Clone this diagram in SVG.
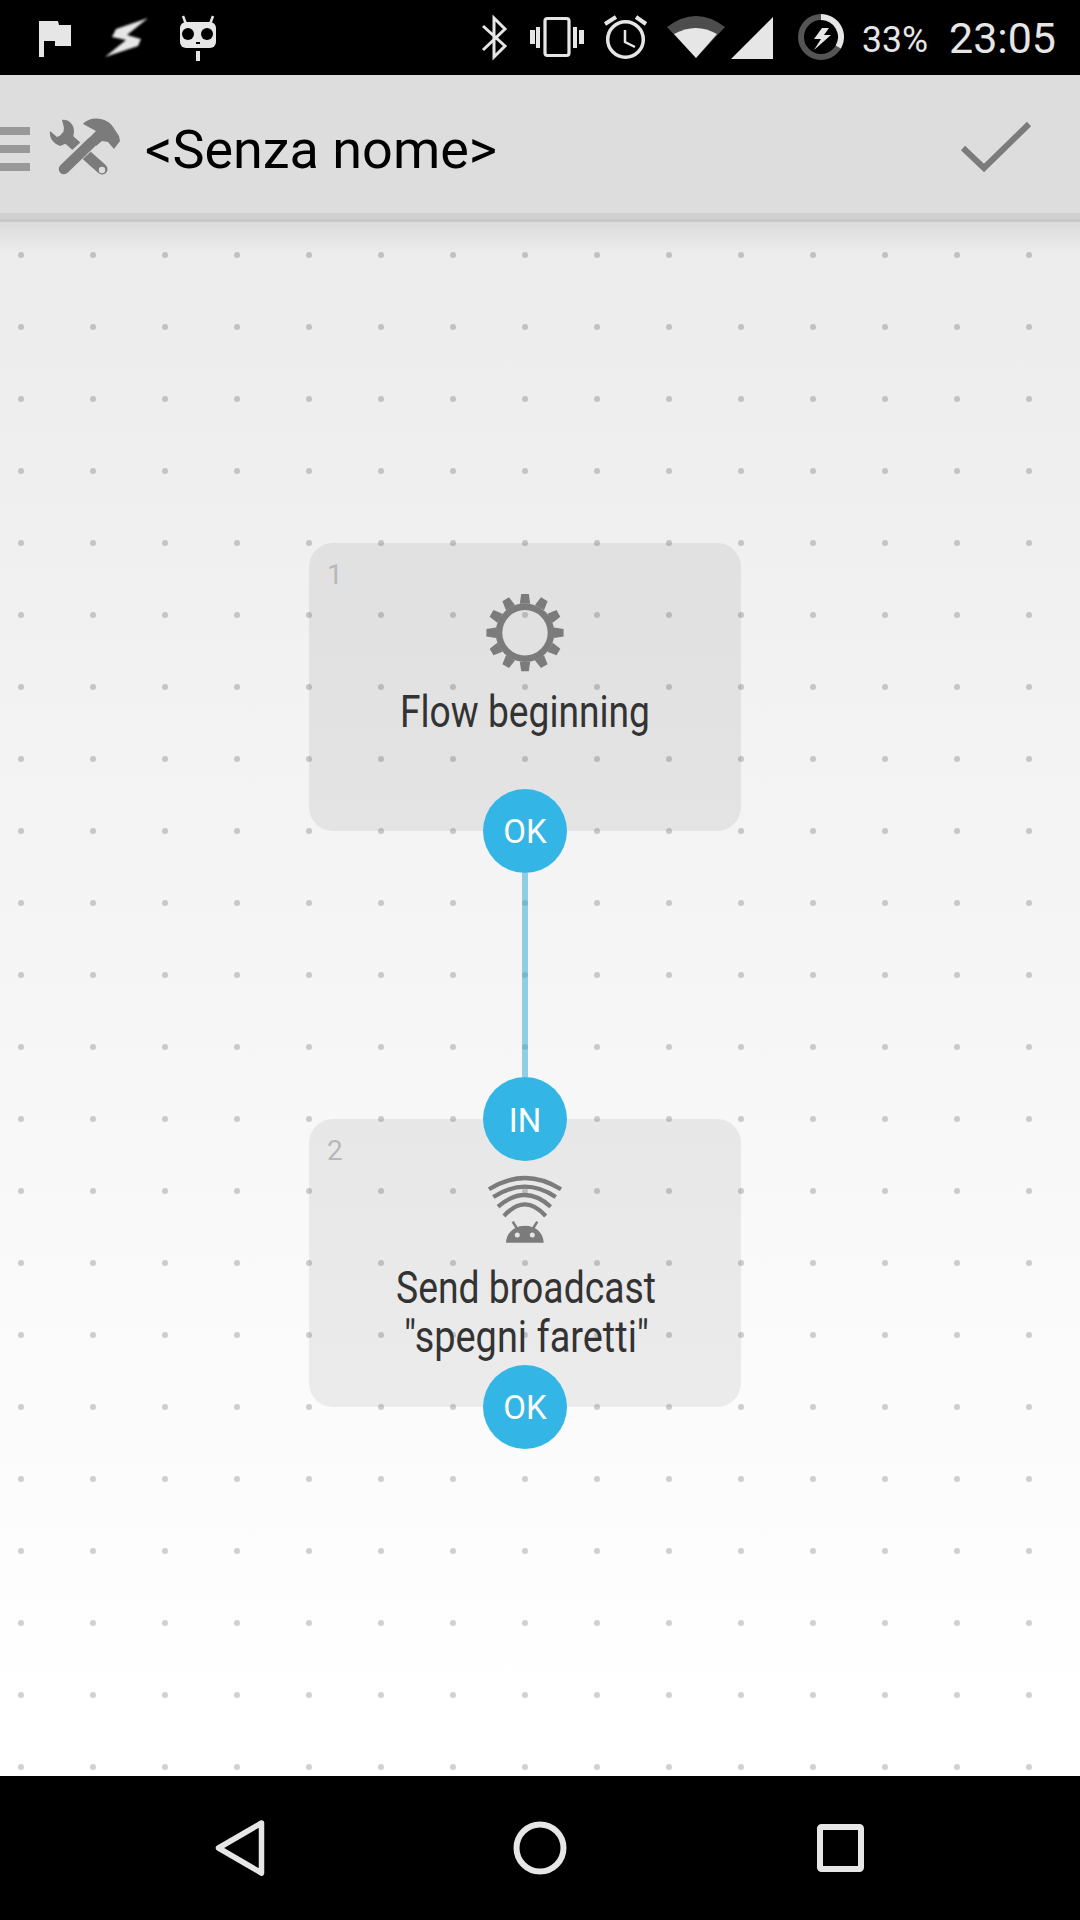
<svg xmlns="http://www.w3.org/2000/svg" width="1080" height="1920" viewBox="0 0 1080 1920">
<style>
text{font-family:"Roboto","Liberation Sans",sans-serif}
.card{fill:#000;fill-opacity:.064}
.port{fill:#33b5e5}
.portText{fill:#fff;font-size:33px;text-anchor:middle}
.num{fill:#b8b8b8;font-size:28px}
.label{fill:#333;font-size:44px}
.st{fill:#e6e6e6}
.sl{fill:none;stroke:#e6e6e6}
.nav{fill:none;stroke:#e6e6e6;stroke-width:6;stroke-linejoin:round}
.ic{fill:#7b7b7b}
.il{fill:none;stroke:#7b7b7b}
</style>
<defs>
<linearGradient id="bg" x1="0" y1="222" x2="0" y2="1776" gradientUnits="userSpaceOnUse">
<stop offset="0" stop-color="#ececec"/><stop offset=".96" stop-color="#ffffff"/><stop offset="1" stop-color="#ffffff"/>
</linearGradient>
<linearGradient id="sh" x1="0" y1="222" x2="0" y2="254" gradientUnits="userSpaceOnUse">
<stop offset="0" stop-color="#000" stop-opacity=".07"/><stop offset="1" stop-color="#000" stop-opacity="0"/>
</linearGradient>
<pattern id="dots" x="-15" y="219" width="72" height="72" patternUnits="userSpaceOnUse">
<circle cx="36" cy="36" r="3" fill="#000" fill-opacity=".18"/>
</pattern>
<filter id="blur" x="-20%" y="-20%" width="140%" height="140%"><feGaussianBlur stdDeviation="1.2"/></filter>
<polygon id="tooth" points="-3.8,-38.6 3.8,-38.6 5.2,-29 -5.2,-29"/>
</defs>

<g id="canvas">
<rect x="0" y="222" width="1080" height="1554" fill="url(#bg)"/>
<rect x="0" y="222" width="1080" height="32" fill="url(#sh)"/>
<rect x="0" y="222" width="1080" height="1554" fill="url(#dots)"/>
</g>

<g id="status-bar">
<rect x="0" y="0" width="1080" height="75" fill="#000"/>
<polygon class="st" points="39,21 58,21 59,25 71,25 71,46 55,46 55,41 44,41 44,57 39,57"/>
<polygon class="st" filter="url(#blur)" points="148,18 116,29 112,37 126,40 105,57 138,46 141,39 127,35"/>
<rect class="st" x="180" y="22" width="36" height="26" rx="6"/>
<path class="sl" stroke-width="2.5" d="M183,16 L186,24 M213,16 L210,24"/>
<circle cx="188" cy="34" r="6" fill="#000"/><circle cx="207" cy="34" r="6" fill="#000"/>
<rect x="196" y="42" width="4" height="2" fill="#000"/>
<rect class="st" x="196" y="51" width="4" height="10"/>
<path class="sl" stroke-width="3" d="M483,26 L505,46 L494,57 L494,18 L505,29 L483,50"/>
<rect class="sl" stroke-width="3.2" x="545" y="18.5" width="24" height="37" rx="2.5"/>
<path class="st" d="M530,30h5v14h-5zM536,27h4v21h-4zM573,27h4v21h-4zM579,30h5v14h-5z"/>
<circle class="sl" stroke-width="3.5" cx="625.5" cy="39.5" r="17.8"/>
<path class="sl" stroke-width="2.5" d="M625,30 L625,42 L635,47"/>
<path class="sl" stroke-width="4" d="M605,24 L616,17 M636,17 L646,24"/>
<path d="M667,27 Q696,5 725,27 L696,58 Z" fill="#4d4d4d"/>
<path class="st" d="M674,34 Q696,22 717,34 L696,58 Z"/>
<polygon class="st" points="731,59 773,17 773,59"/>
<circle cx="821" cy="37" r="20" fill="none" stroke="#555" stroke-width="6"/>
<path class="sl" stroke-width="6" d="M821,17 A20,20 0 0 1 838.3,47"/>
<polygon class="st" points="822,28 814,39 821,39 814,50 831,35 824,35 829,28"/>
<text class="st" x="862" y="52" font-size="36" textLength="66" lengthAdjust="spacingAndGlyphs">33%</text>
<text class="st" x="949" y="53" font-size="42" textLength="107" lengthAdjust="spacingAndGlyphs">23:05</text>
</g>

<g id="toolbar">
<rect x="0" y="75" width="1080" height="138" fill="#dddddd"/>
<rect x="0" y="213" width="1080" height="6" fill="#d1d1d1"/>
<rect x="0" y="219" width="1080" height="3" fill="#c9c9c9"/>
<path d="M0,127h30v8H0zM0,145h30v8H0zM0,163h30v8H0z" fill="#999"/>
<g id="tools-icon">
<path class="il" stroke-width="11" stroke-linecap="round" d="M66,137 L102,169"/>
<path class="ic" d="M62,120 C68,119 74,124 74,131 C74,136 72,140 70,142 L60,146 C53,143 49,138 50,131 L57,137 L63,134 L64,128 Z"/>
<circle cx="102" cy="170" r="3.2" fill="#ddd"/>
<path fill="none" stroke="#ddd" stroke-width="14" d="M63,168 L92,141"/>
<path class="il" stroke-width="10.5" stroke-linecap="round" d="M64,169 L92,142"/>
<path class="ic" d="M83,124 C90,116 108,116 115,130 L119,136 L120,141 L114,149 L108,142 L102,141 L96,146 L90,137 L96,131 Z"/>
</g>
<text x="145" y="168" font-size="54" fill="#000" textLength="352" lengthAdjust="spacingAndGlyphs">&lt;Senza nome&gt;</text>
<path class="il" stroke-width="6" d="M963,148 L984,168 L1029,124"/>
</g>

<g id="connectors">
<line x1="525" y1="873" x2="525" y2="1077" stroke="#2aa5d3" stroke-opacity=".5" stroke-width="6"/>
</g>

<g id="node-1">
<rect class="card" x="309" y="543" width="432" height="288" rx="24"/>
<text class="num" x="327" y="584">1</text>
<g id="gear-icon" class="ic" transform="translate(525,632.7)">
<circle r="26" fill="none" stroke="#7b7b7b" stroke-width="6.6"/>
<use href="#tooth"/>
<use href="#tooth" transform="rotate(30)"/>
<use href="#tooth" transform="rotate(60)"/>
<use href="#tooth" transform="rotate(90)"/>
<use href="#tooth" transform="rotate(120)"/>
<use href="#tooth" transform="rotate(150)"/>
<use href="#tooth" transform="rotate(180)"/>
<use href="#tooth" transform="rotate(210)"/>
<use href="#tooth" transform="rotate(240)"/>
<use href="#tooth" transform="rotate(270)"/>
<use href="#tooth" transform="rotate(300)"/>
<use href="#tooth" transform="rotate(330)"/>
</g>
<text class="label" x="400" y="727" textLength="250" lengthAdjust="spacingAndGlyphs">Flow beginning</text>
<circle class="port" cx="525" cy="831" r="42"/>
<text class="portText" x="525" y="843">OK</text>
</g>

<g id="node-2">
<rect class="card" x="309" y="1119" width="432" height="288" rx="24"/>
<text class="num" x="327" y="1160">2</text>
<g id="broadcast-icon">
<path class="il" stroke-width="4.2" d="M489,1189.3 Q525,1166.7 561,1189.3 M493.3,1197 Q525,1176.4 555.7,1197 M498,1206.7 Q525,1183.3 550.7,1206.7 M504,1216 Q525,1192.6 545.7,1216"/>
<path class="ic" d="M506,1242.7 C506.5,1232 515,1225.7 525,1225.7 C535,1225.7 543.2,1232 543.7,1242.7 Z"/>
<path class="il" stroke-width="2.5" d="M512.7,1221.7 L516.7,1228 M537.3,1221.7 L533.3,1228"/>
<circle cx="517.3" cy="1235" r="2.5" fill="#e6e6e6"/><circle cx="532.3" cy="1235" r="2.5" fill="#e6e6e6"/>
</g>
<text class="label" x="396" y="1303" textLength="260" lengthAdjust="spacingAndGlyphs">Send broadcast</text>
<text class="label" x="404" y="1352" textLength="245" lengthAdjust="spacingAndGlyphs">"spegni faretti"</text>
<circle class="port" cx="525" cy="1119" r="42"/>
<text class="portText" x="525" y="1132">IN</text>
<circle class="port" cx="525" cy="1407" r="42"/>
<text class="portText" x="525" y="1419">OK</text>
</g>

<g id="nav-bar">
<rect x="0" y="1776" width="1080" height="144" fill="#000"/>
<path class="nav" d="M261.5,1823 L218.5,1848 L261.5,1873 Z" style="stroke-width:5.5"/>
<circle class="nav" cx="540" cy="1848" r="23.5"/>
<rect class="nav" x="820" y="1827" width="41" height="42" rx="1.5"/>
</g>
</svg>
